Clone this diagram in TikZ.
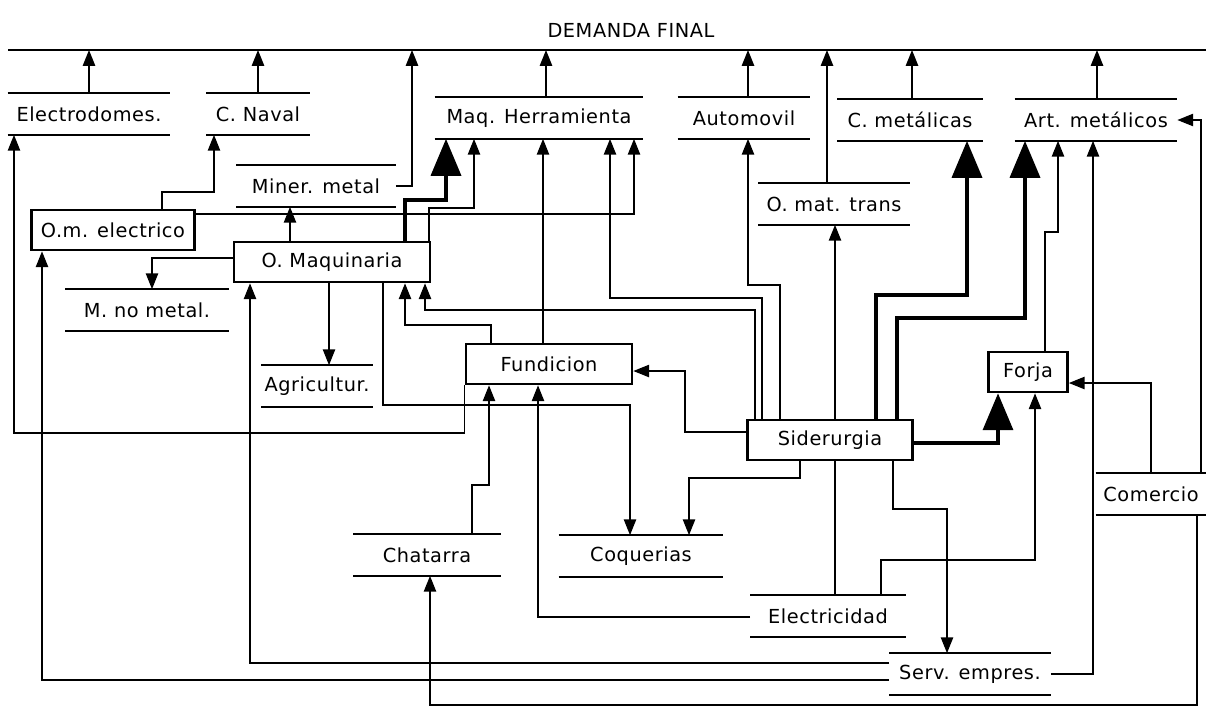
\documentclass[tikz,border=0pt]{standalone}
\usepackage{fontspec}
\newfontfamily\rotulo{DejaVu Sans}[LetterSpace=3]
\usetikzlibrary{arrows.meta, positioning, backgrounds}

\begin{document}
\begin{tikzpicture}[
    x=0.02cm, y=-0.02cm,
    every node/.style={font=\rotulo\fontsize{11pt}{13pt}\selectfont},
    caja/.style={draw, line width=1.5pt, fill=white, inner sep=0pt, minimum height=0.8cm, minimum width=#1*0.02cm},
    raya/.style={draw, line width=1.2pt},
    sector/.style={inner sep=0pt, minimum height=0.82cm, minimum width=#1*0.02cm,
        append after command={(\tikzlastnode.north west) edge[raya] (\tikzlastnode.north east)
                              (\tikzlastnode.south west) edge[raya] (\tikzlastnode.south east)}},
    flujo/.style={-{Triangle[length=9pt, width=7pt]}, line width=0.9pt},
    flujo grueso/.style={-{Triangle[length=21pt, width=17pt]}, line width=2.2pt}]

\useasboundingbox (0,0) rectangle (1206,708);

% demanda final
\node (demanda) at (631,30) {DEMANDA FINAL};
\coordinate (dfizq) at (8,50);
\coordinate (dfder) at (1206,50);
\draw[raya] (dfizq) -- (dfder);

% sectores
\node[sector=162] (electro) at (89,114) {Electrodomes.};
\node[sector=103] (naval) at (258,114) {C. Naval};
\node[sector=159] (miner) at (316,186) {Miner. metal};
\node[sector=208] (maqherr) at (539,118) {Maq. Herramienta};
\node[sector=132] (auto) at (744,118) {Automovil};
\node[sector=145] (cmet) at (910,120) {C. metálicas};
\node[sector=162] (artmet) at (1096,120) {Art. metálicos};
\node[sector=151] (omattrans) at (834,204) {O. mat. trans};
\node[sector=163] (mnometal) at (147,310) {M. no metal.};
\node[sector=111] (agric) at (317,386) {Agricultur.};
\node[sector=147] (chatarra) at (427,555) {Chatarra};
\node[sector=164] (coquerias) at (641,556) {Coquerias};
\node[sector=155] (electricidad) at (828,616) {Electricidad};
\node[sector=161] (servemp) at (970,674) {Serv. empres.};
\node[sector=110] (comercio) at (1151,494) {Comercio};

% ramas con recuadro
\node[caja=163] (omelec) at (113,230) {O.m. electrico};
\node[caja=196] (omaq) at (332,262) {O. Maquinaria};
\node[caja=166] (fundicion) at (549,364) {Fundicion};
\node[caja=165] (siderurgia) at (830,440) {Siderurgia};
\node[caja=79] (forja) at (1028,372) {Forja};

\begin{scope}[on background layer]
% hacia la demanda final
\draw[flujo] (electro.north) -- (electro.north |- dfizq);
\draw[flujo] (naval.north) -- (naval.north |- dfizq);
\draw[flujo] (miner.east) -| (dfizq -| 412,0);
\draw[flujo] (maqherr.north -| 546,0) -- (dfizq -| 546,0);
\draw[flujo] (auto.north -| 748,0) -- (dfizq -| 748,0);
\draw[flujo] (omattrans.north -| 827,0) -- (dfizq -| 827,0);
\draw[flujo] (cmet.north -| 912,0) -- (dfizq -| 912,0);
\draw[flujo] (artmet.north -| 1097,0) -- (dfizq -| 1097,0);

% O.m. electrico y O. Maquinaria
\draw[flujo] (omelec.north -| 162,0) |- (214,192) -- (naval.south -| 214,0);
\draw[flujo] (omelec.east |- 0,214) -| (maqherr.south -| 634,0);
\draw[flujo] (omaq.north -| 290,0) -- (miner.south -| 290,0);
\draw[flujo grueso] (omaq.north -| 405,0) |- (446,200) -- (maqherr.south -| 446,0);
\draw[flujo] (omaq.north -| 429,0) |- (474,208) -- (maqherr.south -| 474,0);
\draw[flujo] (omaq.west |- 0,258) -| (mnometal.north -| 152,0);
\draw[flujo] (omaq.south -| 329,0) -- (agric.north -| 329,0);
\draw[flujo] (omaq.south -| 383,0) |- (630,405) -- (coquerias.north -| 630,0);

% Fundicion
\draw[flujo] (fundicion.south west) |- (14,433) -- (electro.south -| 14,0);
\draw[flujo] (fundicion.north -| 491,0) |- (405,325) -- (omaq.south -| 405,0);
\draw[flujo] (fundicion.north -| 543,0) -- (maqherr.south -| 543,0);

% Siderurgia
\draw[flujo] (siderurgia.north -| 755,0) |- (425,310) -- (omaq.south -| 425,0);
\draw[flujo] (siderurgia.north -| 762,0) |- (610,298) -- (maqherr.south -| 610,0);
\draw[flujo] (siderurgia.north -| 780,0) |- (748,285) -- (auto.south -| 748,0);
\draw[flujo] (siderurgia.west |- 0,432) -| (685,371) -- (fundicion.east |- 0,371);
\draw[flujo grueso] (siderurgia.east |- 0,443) -| (forja.south -| 998,0);
\draw[flujo grueso] (siderurgia.north -| 876,0) |- (967,295) -- (cmet.south -| 967,0);
\draw[flujo grueso] (siderurgia.north -| 897,0) |- (1025,318) -- (artmet.south -| 1025,0);
\draw[flujo] (siderurgia.south -| 800,0) |- (689,478) -- (coquerias.north -| 689,0);
\draw[flujo] (siderurgia.south -| 893,0) |- (947,509) -- (servemp.north -| 947,0);

% Forja y Comercio
\draw[flujo] (forja.north -| 1045,0) |- (1058,232) -- (artmet.south -| 1058,0);
\draw[flujo] (comercio.north -| 1151,0) |- (forja.east |- 0,383);
\draw[flujo] (comercio.north -| 1201,0) |- (artmet.east);
\draw[flujo] (comercio.south -| 1197,0) |- (430,705) -- (chatarra.south -| 430,0);

% Serv. empres.
\draw[flujo] (servemp.west |- 0,663) -| (omaq.south -| 250,0);
\draw[flujo] (servemp.west |- 0,680) -| (omelec.south -| 42,0);
\draw[flujo] (servemp.east) -| (artmet.south -| 1093,0);

% Electricidad y Chatarra
\draw[flujo] (electricidad.north -| 835,0) -- (omattrans.south -| 835,0);
\draw[flujo] (electricidad.north -| 881,0) |- (1035,560) -- (forja.south -| 1035,0);
\draw[flujo] (electricidad.west |- 0,617) -| (fundicion.south -| 538,0);
\draw[flujo] (chatarra.north -| 472,0) |- (489,485) -- (fundicion.south -| 489,0);
\end{scope}

\end{tikzpicture}
\end{document}
